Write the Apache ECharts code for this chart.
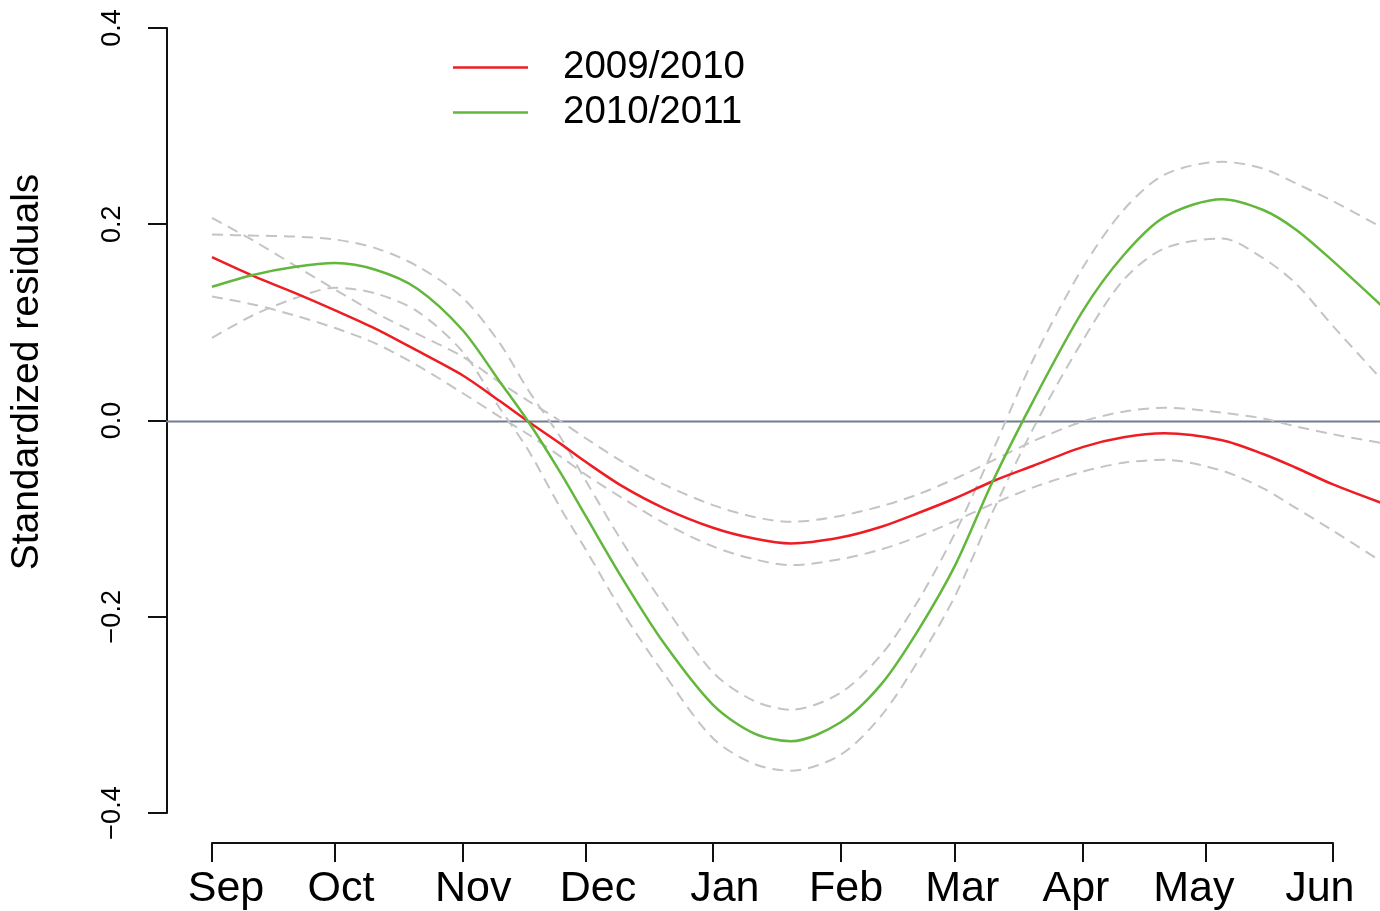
<!DOCTYPE html>
<html>
<head>
<meta charset="utf-8">
<script src="https://cdn.jsdelivr.net/npm/echarts@6.0.0/dist/echarts.min.js"></script>
<style>
html,body{margin:0;padding:0;background:#fff;}
#chart{width:1380px;height:911px;}
</style>
</head>
<body>
<div id="chart"></div>
<script>
// days since 1 September
const days = [0,10,20,30,40,50,61,70,77,85,91,100,110,122,132,141,153,163,172,181,190,200,212,222,232,246,256,264,273,285];

const red2009 = [0.167,0.148,0.131,0.113,0.094,0.072,0.047,0.021,0.000,-0.023,-0.041,-0.066,-0.088,-0.108,-0.119,-0.124,-0.118,-0.107,-0.093,-0.078,-0.061,-0.045,-0.026,-0.016,-0.012,-0.019,-0.033,-0.047,-0.064,-0.083];
const red2009Upper = [0.207,0.184,0.159,0.134,0.110,0.089,0.066,0.040,0.021,0.000,-0.017,-0.041,-0.064,-0.085,-0.097,-0.102,-0.096,-0.086,-0.074,-0.058,-0.040,-0.020,0.000,0.010,0.014,0.009,0.003,-0.005,-0.013,-0.022];
const red2009Lower = [0.127,0.119,0.108,0.095,0.079,0.057,0.029,0.005,-0.013,-0.036,-0.054,-0.078,-0.103,-0.127,-0.140,-0.146,-0.140,-0.130,-0.117,-0.101,-0.084,-0.067,-0.051,-0.042,-0.039,-0.050,-0.068,-0.088,-0.111,-0.143];

const green2010 = [0.137,0.149,0.157,0.161,0.154,0.135,0.093,0.041,0.000,-0.053,-0.096,-0.160,-0.225,-0.288,-0.317,-0.325,-0.306,-0.267,-0.212,-0.146,-0.062,0.021,0.112,0.169,0.208,0.226,0.215,0.195,0.163,0.117];
const green2010Upper = [0.190,0.189,0.188,0.185,0.176,0.158,0.126,0.080,0.032,-0.017,-0.060,-0.123,-0.186,-0.255,-0.284,-0.293,-0.276,-0.237,-0.182,-0.113,-0.031,0.063,0.156,0.215,0.251,0.264,0.257,0.242,0.224,0.197];
const green2010Lower = [0.085,0.108,0.125,0.136,0.130,0.112,0.071,0.014,-0.029,-0.089,-0.130,-0.194,-0.256,-0.322,-0.348,-0.355,-0.339,-0.299,-0.243,-0.177,-0.093,-0.007,0.082,0.144,0.176,0.186,0.166,0.140,0.097,0.042];

const tickDays = [0,30,61,91,122,153,181,212,242,273];
const monthLabels = ['Sep','Oct','Nov','Dec','Jan','Feb','Mar','Apr','May','Jun'];
const labelDays = [3.4,31.4,63.6,94,124.9,154.4,182.7,210.4,239.1,269.8];
const yTicks = [-0.4, 0.4];
const zeroLine = [[-20,0],[300,0]];

const seriesNames = ['2009/2010','2010/2011'];
const yLabel = 'Standardized residuals';

const pairs = ys => days.map((d,i) => [d, ys[i]]);

// ---- layout (pixels) ----
const W = 1380, H = 911;
const axL = 212, axR = 1333, axT = 28, axB = 815;     // tick extents
const plotL = 167, plotB = 845;                        // plot-region edges (where axes are drawn)
const pxPerDay = (axR - axL) / (tickDays[tickDays.length-1] - tickDays[0]);
const pxPerUnit = (axB - axT) / (yTicks[1] - yTicks[0]);
const xMin = tickDays[0] - (axL - plotL) / pxPerDay;
const xMax = tickDays[0] + (W - axL) / pxPerDay;
const yMax = yTicks[1] + axT / pxPerUnit;
const yMin = yTicks[0] - (plotB - axB) / pxPerUnit;

const RED = '#ee1d23', GREEN = '#62b73c', GRAY = '#c4c4c4';
const dashStyle = {color: GRAY, width: 2, type: [11,7]};
const SMOOTH = 0.3;

function band(data){
  return {type:'line', xAxisIndex:0, yAxisIndex:0, data: pairs(data), smooth: SMOOTH, symbol:'none', silent:true,
          lineStyle: dashStyle, z: 2};
}

const chart = echarts.init(document.getElementById('chart'), null, {renderer:'canvas'});
chart.setOption({
  animation:false,
  backgroundColor:'#fff',
  grid:[
    {left:plotL, right:0, top:0, bottom:H-plotB, containLabel:false},
    {left:axL, right:W-axR, top:axT, bottom:H-axB, containLabel:false}
  ],
  legend:{
    data: seriesNames.map(n => ({name:n, icon:'rect'})), orient:'vertical', left:453, top:48, padding:0,
    itemWidth:75, itemHeight:2.5, itemGap:6,
    textStyle:{fontFamily:'Liberation Sans', fontSize:38.5, color:'#000', padding:[0,0,0,30]},
    selectedMode:false
  },
  xAxis:[
    {gridIndex:0, type:'value', min:xMin, max:xMax, show:false},
    {gridIndex:1, type:'value', min:tickDays[0], max:tickDays[tickDays.length-1], offset:plotB-axB,
     axisLine:{show:true, onZero:false, lineStyle:{color:'#111', width:2}},
     axisTick:{show:true, customValues: tickDays, length:19, lineStyle:{color:'#111', width:2}},
     axisLabel:{show:true, customValues: labelDays, margin:25,
       fontFamily:'Liberation Sans', fontSize:43, color:'#000',
       formatter: v => { for (let i=0;i<labelDays.length;i++){ if (Math.abs(labelDays[i]-v)<0.01) return monthLabels[i]; } return ''; }},
     splitLine:{show:false}}
  ],
  yAxis:[
    {gridIndex:0, type:'value', min:yMin, max:yMax, show:false},
    {gridIndex:1, type:'value', min:yTicks[0], max:yTicks[1], interval:0.2, offset:axL-plotL,
     axisLine:{show:true, onZero:false, lineStyle:{color:'#111', width:2}},
     axisTick:{show:true, length:19, lineStyle:{color:'#111', width:2}},
     axisLabel:{show:true, rotate:90, margin:41, fontFamily:'"Liberation Sans Narrow", "Liberation Sans"', fontSize:27, color:'#000',
       formatter: v => (v < -1e-9 ? '\u2212' : '') + Math.abs(v).toFixed(1)},
     splitLine:{show:false}}
  ],
  graphic:[{
    type:'text', x:27, y:372, rotation: Math.PI/2,
    style:{text: yLabel, font:'39px "Liberation Sans"', fill:'#000', textAlign:'center', textVerticalAlign:'middle'}
  }],
  series:[
    {type:'line', xAxisIndex:0, yAxisIndex:0, data: zeroLine, symbol:'none', silent:true,
     lineStyle:{color:'#6e7d8f', width:2}, z:1},
    band(red2009Upper), band(red2009Lower), band(green2010Upper), band(green2010Lower),
    {name: seriesNames[0], type:'line', xAxisIndex:0, yAxisIndex:0, data: pairs(red2009), smooth:SMOOTH, symbol:'none',
     lineStyle:{color:RED, width:2.5}, itemStyle:{color:RED}, z:3},
    {name: seriesNames[1], type:'line', xAxisIndex:0, yAxisIndex:0, data: pairs(green2010), smooth:SMOOTH, symbol:'none',
     lineStyle:{color:GREEN, width:2.5}, itemStyle:{color:GREEN}, z:3}
  ]
});
</script>
</body>
</html>
